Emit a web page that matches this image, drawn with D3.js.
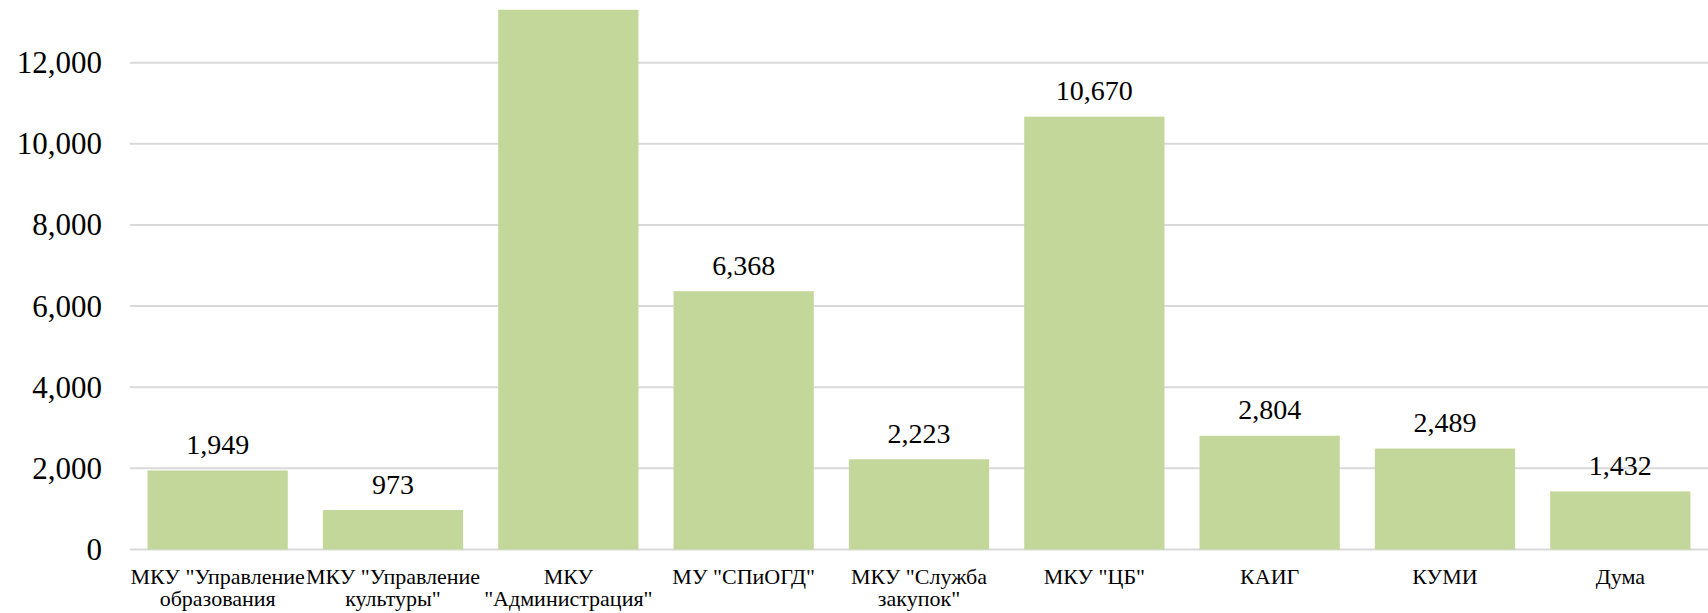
<!DOCTYPE html>
<html>
<head>
<meta charset="utf-8">
<script src="https://cdn.jsdelivr.net/npm/d3@7"></script>
<style>
  html, body { margin: 0; padding: 0; background: #fff; }
  svg { display: block; }
</style>
</head>
<body>
<svg id="chart" width="1708" height="613" font-family="'Liberation Serif', Tinos, 'Times New Roman', 'DejaVu Serif', serif"></svg>
<script>
const categories = [
  ["МКУ \"Управление", "образования"],
  ["МКУ \"Управление", "культуры\""],
  ["МКУ", "\"Администрация\""],
  ["МУ \"СПиОГД\""],
  ["МКУ \"Служба", "закупок\""],
  ["МКУ \"ЦБ\""],
  ["КАИГ"],
  ["КУМИ"],
  ["Дума"]
];
const values = [1949, 973, 13305, 6368, 2223, 10670, 2804, 2489, 1432];
const yTicks = [0, 2000, 4000, 6000, 8000, 10000, 12000];

const svg = d3.select("#chart");
const left = 130, right = 1708, zeroY = 549.5, topY = 62.7;

const keys = categories.map((c, i) => i);
const x = d3.scaleBand().domain(keys).range([left, right]).paddingInner(0.2).paddingOuter(0.1);
const y = d3.scaleLinear().domain([0, 12000]).range([zeroY, topY]);
const fmt = d3.format(",");

// gridlines
svg.append("g").selectAll("line").data(yTicks).join("line")
  .attr("x1", left).attr("x2", right)
  .attr("y1", d => y(d)).attr("y2", d => y(d))
  .attr("stroke", "#d9d9d9").attr("stroke-width", 2);

// y tick labels
svg.append("g").selectAll("text").data(yTicks).join("text")
  .attr("x", 102).attr("y", d => y(d) + 10.5)
  .attr("text-anchor", "end")
  .attr("fill", "#000")
  .style("font-size", "31px")
  .text(d => fmt(d));

// bars
svg.append("g").selectAll("rect").data(values).join("rect")
  .attr("x", (d, i) => x(i))
  .attr("width", x.bandwidth())
  .attr("y", d => y(d))
  .attr("height", d => zeroY - y(d))
  .attr("fill", "#c4d79b");

// data labels (the one above the visible area is cut off in the reference)
const labelData = values.map((v, i) => ({v, i})).filter(d => y(d.v) - 16.5 - 20 > 0);
svg.append("g").selectAll("text").data(labelData).join("text")
  .attr("x", d => x(d.i) + x.bandwidth() / 2)
  .attr("y", d => y(d.v) - 16.5)
  .attr("text-anchor", "middle")
  .attr("fill", "#000")
  .style("font-size", "28px")
  .text(d => fmt(d.v));

// category labels
const cat = svg.append("g").selectAll("text").data(categories).join("text")
  .attr("x", (d, i) => x(i) + x.bandwidth() / 2)
  .attr("y", 583.5)
  .attr("text-anchor", "middle")
  .attr("fill", "#000")
  .style("font-size", "22px");
cat.each(function(lines, i) {
  const t = d3.select(this);
  lines.forEach((ln, j) => {
    t.append("tspan")
      .attr("x", x(i) + x.bandwidth() / 2)
      .attr("dy", j === 0 ? 0 : 22)
      .text(ln);
  });
});
</script>
</body>
</html>
